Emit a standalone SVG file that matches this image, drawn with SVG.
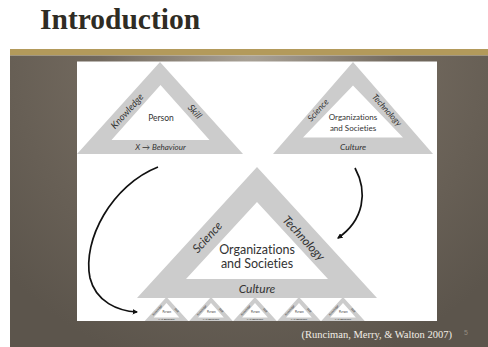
<svg xmlns="http://www.w3.org/2000/svg" xmlns:xlink="http://www.w3.org/1999/xlink" width="488" height="347" viewBox="0 0 488 347">
<style>
.tri{fill:#cccccc;fill-rule:evenodd}
.t{font-family:Lato,"Open Sans","Noto Sans",sans-serif;fill:#333333;text-anchor:middle;font-variant-ligatures:none}
.i{font-style:italic}
.arr{fill:none;stroke:#111111;stroke-width:1.7}
</style>
<defs>
<radialGradient id="bg" cx="250" cy="50" r="330" gradientUnits="userSpaceOnUse">
<stop offset="0" stop-color="#aaa398"/>
<stop offset="0.45" stop-color="#72695e"/>
<stop offset="1" stop-color="#5c554c"/>
</radialGradient>
<marker id="ah" viewBox="0 0 10 10" refX="8" refY="5" markerWidth="5.5" markerHeight="5.5" orient="auto" markerUnits="userSpaceOnUse">
<path d="M0,0 L10,5 L0,10 Z" fill="#111111"/>
</marker>
<g id="pmini">
<path class="tri" d="M0,0 L83,92 L-83,92 Z M0,23 L-49,78 L49,78 Z"/>
<text class="t" x="1" y="62" font-size="11">Person</text>
<text class="t i" x="-33" y="53" font-size="11" transform="rotate(-48 -33 53)">Knowledge</text>
<text class="t i" x="36" y="53" font-size="11" transform="rotate(48 36 53)">Skill</text>
<text class="t i" x="0" y="89" font-size="10">X → Behaviour</text>
</g>
</defs>
<rect width="488" height="347" fill="#ffffff"/>
<text x="40" y="29" font-family="'Liberation Serif','Times New Roman',serif" font-weight="bold" font-size="29.5" fill="#2f2c24">Introduction</text>
<rect x="10" y="49" width="478" height="6.5" fill="#b39a5b"/>
<rect x="10" y="55.5" width="478" height="291.5" fill="url(#bg)"/>
<rect x="77" y="61.5" width="360" height="259.5" fill="#ffffff"/>

<g id="node-person">
<path class="tri" d="M160,62 L243,154 L77,154 Z M160.5,85 L111.5,140 L209.5,140 Z"/>
<text class="t" x="161" y="121" font-size="8.5">Person</text>
<text class="t i" x="127" y="111" font-size="9.5" dominant-baseline="central" transform="rotate(-48 127 111)">Knowledge</text>
<text class="t i" x="195" y="111.5" font-size="9.5" dominant-baseline="central" transform="rotate(48 195 111.5)">Skill</text>
<text class="t i" x="160.5" y="150" font-size="8">X → Behaviour</text>
</g>

<g id="node-org-small">
<path class="tri" d="M353,62 L433,154 L273,154 Z M353,85.5 L303,137.5 L403,137.5 Z"/>
<text class="t" x="353" y="120" font-size="8">Organizations</text>
<text class="t" x="353" y="131" font-size="8">and Societies</text>
<text class="t i" x="318" y="110" font-size="8.5" dominant-baseline="central" transform="rotate(-48 318 110)">Science</text>
<text class="t i" x="387" y="110" font-size="8.5" dominant-baseline="central" transform="rotate(48 387 110)">Technology</text>
<text class="t i" x="353" y="150" font-size="8.5">Culture</text>
</g>

<g id="node-org-large">
<path class="tri" d="M257,167 L377,298 L137,298 Z M257,202 L186,279 L328,279 Z"/>
<text class="t" x="257" y="254" font-size="12.5">Organizations</text>
<text class="t" x="257" y="268" font-size="12.5">and Societies</text>
<text class="t i" x="207" y="237" font-size="12" dominant-baseline="central" transform="rotate(-47.5 207 237)">Science</text>
<text class="t i" x="304" y="238" font-size="12" dominant-baseline="central" transform="rotate(47.5 304 238)">Technology</text>
<text class="t i" x="257" y="293" font-size="12">Culture</text>
</g>

<g id="node-person-1"><use xlink:href="#pmini" transform="translate(166.5,297) scale(0.262)"/></g>
<g id="node-person-2"><use xlink:href="#pmini" transform="translate(211,297) scale(0.262)"/></g>
<g id="node-person-3"><use xlink:href="#pmini" transform="translate(255,297) scale(0.262)"/></g>
<g id="node-person-4"><use xlink:href="#pmini" transform="translate(299,297) scale(0.262)"/></g>
<g id="node-person-5"><use xlink:href="#pmini" transform="translate(343,297) scale(0.262)"/></g>

<g id="connectors">
<path class="arr" d="M158,167 C112,185 82,240 90,278 C96,302 118,311 137,312" marker-end="url(#ah)"/>
<path class="arr" d="M355,168 C368,192 364,220 338,238" marker-end="url(#ah)"/>
</g>

<text x="452" y="338" text-anchor="end" font-family="'Liberation Serif','Times New Roman',serif" font-size="10.5" fill="#f2eee6">(Runciman, Merry, &amp; Walton 2007)</text>
<text x="466" y="335" text-anchor="middle" font-family="'Liberation Sans',Arial,sans-serif" font-size="7" fill="#948c80">5</text>
</svg>
